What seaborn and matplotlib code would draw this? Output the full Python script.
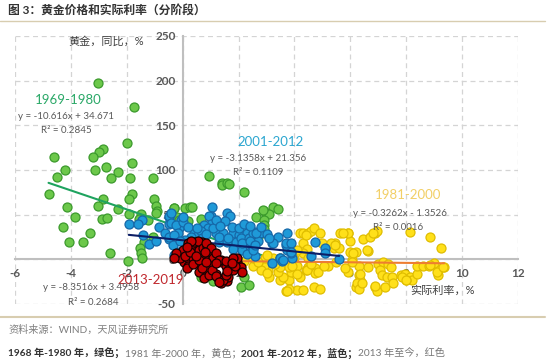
import numpy as np
import pandas as pd
import matplotlib
matplotlib.use("Agg")
import matplotlib.pyplot as plt
import seaborn as sns

# ---- data ----
# 1969-1980 (green)
g_x = [-3.04, -1.75, -2.0, -2.86, -3.0, -3.2, -4.6, -1.8, -4.2, -3.14, -2.75, -2.3, -4.5, -2.57, -1.9,
       -1.07, -4.8, -1.8, -1.93, -2.86, -3.04, -4.14, -1.04, -0.96, -2.3, -1.93, -1.5, -3.86, -2.9, -2.7,
       -1.57, -4.3, -3.3, -4.07, -3.57, -1.07, -1.4, -1.54, -2.6, -1.5, -1.46, -1.96, -0.3, -0.2, -0.93,
       -0.32, 0.1, 0.25, 0.35, 0.93, 1.4, 1.4, 1.6, 1.65, 2.2, 2.9, 3.25, 3.4, 3.1, 2.64,
       0.64, 2.9, 2.9, 2.9, 2.8, 2.86, 0.18, -0.14, 2.7, -1.25, -0.96,
       0.64, 1.07, 2.07, 2.36, 2.2]
g_y = [197, 170, 130, 123, 120, 115, 115, 108, 100, 100, 103, 98, 92, 91, 91,
       91, 73, 73, 67, 67, 60, 59, 68, 60, 56, 51, 51, 47, 45, 46,
       45, 36, 29, 19, 19, 25, 19, 13, 7, 7, 2, -2, 58, 47, 54,
       57, 58, 59, 59, 93, 86, 83, 85, 84, 75, 54, 59, 56, 51, 47,
       45, 44, 38, 34, 29, 55, 43, 44, 25, 44, 52,
       -20, -24, -31, -29, -20]

# 1981-2000 (yellow)
yl_x = [4.2, 4.3, 4.5, 4.6, 4.7, 5.64, 5.9, 6.0, 6.46, 6.7, 6.9, 6.96, 8.14, 8.86, 9.25, 6.64, 6.0, 6.2,
        5.46, 5.4, 5.6, 4.3, 4.46, 4.3, 4.5, 4.0, 4.1, 4.5, 4.75, 4.4, 4.75, 4.2, 3.8, 4.1, 4.3, 4.7,
        4.9, 3.7, 3.8, 3.5, 5.2, 6.3, 6.36, 6.2, 6.64, 7.0, 7.18, 7.36, 7.45, 7.07, 7.14, 7.3, 7.5, 6.9,
        6.96, 7.25, 7.54, 7.8, 7.96, 8.14, 8.2, 8.0, 8.4, 8.4, 8.6, 8.8, 9.14, 9.14, 9.36, 9.0, 6.3, 6.07,
        4.4, 4.9, 5.0, 4.1, 3.96, 4.46, 3.86, 3.6, 3.75, 3.07, 2.9, 2.7, 3.25, 3.5, 2.96, 3.1, 3.4, 3.5,
        3.8, 3.9, 4.1, 4.6, 4.86, 5.07, 5.3, 5.46, 5.9, 6.1, 6.6, 6.07, 6.36, 6.25, 6.3, 5.9, 5.5, 5.8,
        1.5, 1.8, 2.2, 2.5, 2.5, 2.8, 3.0, 3.3, 3.0, 2.7, 6.4, 6.9, 7.86, 8.0, 6.8, 5.75, 8.86, 9.1, 9.3]
yl_y = [29, 29, 30, 32, 35, 29, 29, 21, 23, 25, 29, 32, 31, 25, 13, 9, 8, 8,
        18, 13, 13, 18, 12, 7, 2, 1, -7, -9, -10, -12, -15, -20, -23, -34, -34, -31,
        -33, -35, -33, -23, -7, -18, -23, -31, -9, -5, -3, -5, -9, -12, -18, -20, -20, -31,
        -35, -31, -26, -18, -16, -20, -23, -23, -16, -7, -7, -7, -12, -18, -9, -4, -7, -1,
        27, 29, 18, 10, 2, -12, -14, -20, -35, -12, -7, -3, 1, 2, 1, -20, -14, -9,
        -9, -7, -16, -5, -14, -7, 18, 16, 30, 7, 10, -3, -16, -26, -33, -14, -3, -10,
        -3, -6, -2, -8, 2, -12, -15, -5, 5, -3, -26, -30, -20, -23, 29, 29, -6, -14, -9]

# 2001-2012 (blue)
b_x = [-1.93, -1.46, -1.43, -1.2, -0.96, -0.86, -0.5, -0.5, -0.64, -0.5, -0.36, -0.14, -0.07,
       1.04, 1.57, 1.0, 1.7, 1.5, 0.96, 1.0, 0.75, 0.89, -0.5, -0.43, -0.25, -0.18, -0.5, 0.4, 0.54,
       1.18, 1.46, 1.8, 2.0, 2.3, 2.6, 2.78, 1.29, 1.6, 1.9, 2.25, 2.54, 1.29, 1.64, 2.07, 2.36, 2.71,
       1.8, 2.14, 2.4, 2.6, 3.2, 3.4, 3.7, 3.5, 3.9, 3.75, 1.07, 0.64,
       2.14, 2.3, 2.5, 3.2, 3.5, 3.55, 3.75, 3.25, 3.7, 3.86, 3.86, 4.75, 5.1, 5.1, 5.6, 2.5, 2.64,
       2.4, 2.6, 3.6, 4.6, 3.86,
       -0.3, 0.0, 0.2, 0.3, 0.5, 0.1, -0.1, 0.7, 0.85, 1.2, 1.35, 1.75, 2.0, 2.2, 2.4, 2.8, 3.0, 3.1,
       0.0, -0.43, -1.6, -0.14, -0.3]
b_y = [40, 44, 27, 17, 21, 36, 47, 40, 30, 23, 16, 35, 44,
       59, 52, 49, 48, 43, 48, 40, 38, 35, 49, 41, 38, 30, 25, 30, 27,
       30, 29, 29, 27, 30, 31, 30, 19, 19, 19, 18, 18, 25, 24, 24, 24, 21,
       12, 10, 8, 4, 18, 25, 16, 2, 2, 10, 35, 32,
       18, 6, 10, -4, 1, -2, 29, 18, 18, 18, 7, 19, 13, 7, 0, 30, 30,
       21, 16, -1, 4, 8,
       27, 42, 36, 25, 35, 22, 20, 24, 28, 44, 37, 36, 35, 40, 37, 36, 28, 24,
       47, 52, 40, 8, 5]

# 2013-2019 (red)
r_x = [-0.2, 0.0, 0.18, 0.29, 0.04, -0.1, 0.2, 0.4, 0.36, 0.53, 0.7, 0.57, 0.46, 0.64, 0.57, 0.75,
       0.9, 1.0, 1.1, 1.0, 0.82, 1.36, 1.18, 1.25, 1.46, 1.57, 1.64, 1.36, 1.54, 1.71, 1.79, 1.96,
       2.07, 2.14, 1.96, 0.4, 0.54, 0.71, 0.86, 0.82, 1.0, 0.2, 0.14, 0.75, 0.93, 1.05, 0.29, -0.25,
       -0.32, 0.1, 0.25, 1.18, 1.29, 1.55, 1.8, 1.86, 1.2, 1.43, 1.3, 1.54, 1.6, 1.75, 0.36, 0.6,
       0.7, 0.85, 1.2, 0.8, 0.48, 0.15]
r_y = [4, 10, 18, 13, -3, 1, 2, 7, 1, 18, 19, 10, -3, -7, -14, 4,
       -1, 7, 1, -7, -12, -1, -16, -21, -22, -24, -20, -26, -7, -7, -12, -3,
       -9, -14, 1, 19, 21, 13, 15, 18, 13, -7, -10, -21, -18, -12, 21, 7,
       1, 4, 8, 7, -1, -2, 1, -8, -19, -23, -25, -18, -13, -4, -5, -1,
       -10, -3, -4, 8, 4, 14]

periods = ["1969-1980", "1981-2000", "2001-2012", "2013-2019"]
equations = ["y = -10.616x + 34.671", "y = -0.3262x - 1.3526",
             "y = -3.1358x + 21.356", "y = -8.3516x + 3.4958"]
slopes = [-10.616, -0.3262, -3.1358, -8.3516]
intercepts = [34.671, -1.3526, 21.356, 3.4958]
r2 = ["0.2845", "0.0016", "0.1109", "0.2684"]

face = ["#6cc84a", "#ffe01a", "#1f9ad8", "#c00000"]
edge = ["#3b9a2c", "#e0bd00", "#1668a8", "#1a0000"]
line_col = ["#1fa35f", "#ed7d31", "#0d1f66", "#8b0000"]
label_col = ["#2aa867", "#f2cf66", "#2ba6d0", "#c0272d"]

df = pd.concat([
    pd.DataFrame({"x": g_x, "y": g_y, "period": periods[0]}),
    pd.DataFrame({"x": yl_x, "y": yl_y, "period": periods[1]}),
    pd.DataFrame({"x": b_x, "y": b_y, "period": periods[2]}),
    pd.DataFrame({"x": r_x, "y": r_y, "period": periods[3]}),
])

sns.set_theme(style="white")
plt.rcParams['font.family'] = ['Lato', 'Noto Sans CJK SC', 'DejaVu Sans']
plt.rcParams['axes.unicode_minus'] = False

fig = plt.figure(figsize=(5.5, 3.61), dpi=100)
ax = fig.add_axes([15 / 550, 57 / 361, 503 / 550, 268 / 361])

for i, p in enumerate(periods):
    sub = df[df["period"] == p]
    z = 3 + i
    sns.scatterplot(data=sub, x="x", y="y", ax=ax, s=42, color=face[i],
                    edgecolor=edge[i], linewidth=0.9, zorder=z, legend=False)
    xs = np.array([sub["x"].min(), sub["x"].max()])
    ax.plot(xs, slopes[i] * xs + intercepts[i], color=line_col[i], lw=1.5,
            zorder=z + 0.5 if i < 3 else z - 0.1)

ax.set_xlim(-6, 12)
ax.set_ylim(-50, 250)
ax.set_xticks(range(-6, 13, 2))
ax.set_yticks(range(-50, 251, 50))
ax.set_xlabel("")
ax.set_ylabel("")
ax.set_axisbelow(True)
ax.grid(True, color="#d4d4d4", linestyle=(0, (4, 3)), linewidth=0.9)

for s in ["top", "right"]:
    ax.spines[s].set_visible(False)
ax.spines["left"].set_position(("data", 0))
ax.spines["bottom"].set_position(("data", 0))
for s in ["left", "bottom"]:
    ax.spines[s].set_color("#bfbfbf")
    ax.spines[s].set_linewidth(1.5)
    ax.spines[s].set_zorder(0.6)

ax.tick_params(length=0, labelsize=8.5, labelcolor="#595959")
ax.tick_params(axis="x", pad=6)
ax.tick_params(axis="y", pad=5)
for t in ax.get_xticklabels() + ax.get_yticklabels():
    t.set_fontweight("bold")

# axis titles
ax.text(-2.75, 244, "黄金，同比，%", ha="center", va="center", fontsize=8, color="#404040")
ax.text(9.3, -35, "实际利率，%", ha="center", va="center", fontsize=8, color="#404040")

# period labels and fitted equations
lab_pos = [(-4.1, 178), (8.07, 72), (3.14, 131), (-1.14, -23.5)]
eq_pos = [(-4.18, 160), (7.79, 51), (2.71, 113), (-3.29, -32)]
r2_pos = [(-4.18, 144), (7.71, 36), (2.71, 97), (-3.21, -48)]
for i in range(4):
    ax.text(*lab_pos[i], periods[i], ha="center", va="center", fontsize=9.5,
            color=label_col[i], zorder=10)
    ax.text(*eq_pos[i], equations[i], ha="center", va="center", fontsize=7,
            color="#595959", zorder=10)
    ax.text(*r2_pos[i], "R² = " + r2[i], ha="center", va="center", fontsize=7,
            color="#595959", zorder=10)

# header / footer
fig.text(8 / 550, 1 - 10 / 361, "图 3：黄金价格和实际利率（分阶段）", ha="left", va="center",
         fontsize=8.5, fontweight="bold", color="#333333")
fig.add_artist(plt.Line2D([0, 545 / 550], [1 - 21 / 361] * 2, color="#d8cdb0", lw=1))
fig.add_artist(plt.Line2D([0, 545 / 550], [1 - 317 / 361] * 2, color="#d8cdb0", lw=1.5))
fig.text(8 / 550, 1 - 330 / 361, "资料来源：WIND，天风证券研究所", ha="left", va="center",
         fontsize=7.3, color="#7f7f7f")

parts = ["1968 年-1980 年，绿色；", "1981 年-2000 年，黄色；", "2001 年-2012 年，蓝色；", "2013 年至今，红色"]
weights = ["bold", "normal", "bold", "normal"]
colors = ["#333333", "#777777", "#333333", "#777777"]
fig.canvas.draw()
rend = fig.canvas.get_renderer()
xpos = 8 / 550
for txt, w, c in zip(parts, weights, colors):
    t = fig.text(xpos, 1 - 353 / 361, txt, ha="left", va="center", fontsize=7.3,
                 fontweight=w, color=c)
    bb = t.get_window_extent(renderer=rend)
    xpos += bb.width / fig.bbox.width

fig.savefig("out.png", dpi=100)
